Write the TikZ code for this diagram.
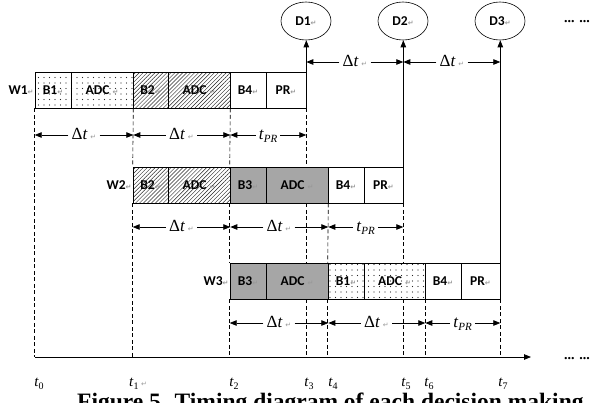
\documentclass[tikz,border=0pt]{standalone}
\usepackage{fontspec}
\setmainfont{Liberation Serif}
\newfontfamily\boxf{Carlito}
\newfontfamily\symf{DejaVu Sans}
\usetikzlibrary{arrows.meta,patterns.meta,shapes.geometric}
\newcommand\rt{{\symf\fontsize{7}{7}\selectfont\color{black!40}↵}}
\newcommand\dt{Δ\textit{t}\,\rt}
\newcommand\tpr{\textit{t}\raisebox{-3.5pt}{\fontsize{11}{11}\selectfont\textit{PR}}}
\newcommand\tsub[1]{\textit{t}\raisebox{-3pt}{\fontsize{10}{10}\selectfont #1}}
\newcommand\cellat[6]{\node[cell,#5,minimum width={(#3-#2)*1pt}] (#1) at ({(#2+#3)/2},#4) {#6};}
\tikzset{
  cell/.style={draw, line width=0.6pt, minimum height=36pt, inner sep=0pt,
    font=\boxf\bfseries\fontsize{13.5}{13.5}\selectfont},
  dotf/.style={pattern={Dots[distance=5.5pt,radius=0.55pt]}, pattern color=black!85},
  hatchf/.style={pattern={Lines[angle=45,distance=2.8pt,line width=0.45pt]}, pattern color=black!85},
  grayf/.style={fill=black!35},
  ell/.style={ellipse, draw, line width=0.6pt, minimum width=50pt, minimum height=38pt,
    inner sep=0pt, font=\boxf\bfseries\fontsize{13.5}{13.5}\selectfont},
  wlab/.style={anchor=east, inner sep=1pt, font=\boxf\bfseries\fontsize{13.5}{13.5}\selectfont},
  dsh/.style={dash pattern=on 4pt off 2.5pt, line width=0.6pt},
  tip/.style={-{Triangle[length=7pt,width=5.5pt]}, line width=0.8pt},
  lbl/.style={inner sep=3pt, text height=11pt, text depth=3pt, font=\fontsize{17}{17}\selectfont},
  tlab/.style={inner sep=0pt, font=\fontsize{15}{15}\selectfont},
  more/.style={inner sep=0pt, font=\bfseries\fontsize{14}{14}\selectfont}
}
\begin{document}
\begin{tikzpicture}[x=1pt,y=-1pt]
\useasboundingbox (0,0) rectangle (593,402);
\clip (0,0) rectangle (593,402);
% W1
\cellat{w1b1}{35}{71}{90}{dotf}{B1\rt}
\cellat{w1adc1}{71}{133}{90}{dotf}{ADC \rt}
\cellat{w1b2}{133}{168}{90}{hatchf}{B2\rt}
\cellat{w1adc2}{168}{230}{90}{hatchf}{ADC \rt}
\cellat{w1b4}{230}{266}{90}{}{B4\rt}
\cellat{w1pr}{266}{306}{90}{}{PR\rt}
\node[wlab] (w1) at (w1b1.west) {W1\rt};
% W2
\cellat{w2b2}{133}{168}{185}{hatchf}{B2\rt}
\cellat{w2adc1}{168}{230}{185}{hatchf}{ADC \rt}
\cellat{w2b3}{230}{266}{185}{grayf}{B3\rt}
\cellat{w2adc2}{266}{328}{185}{grayf}{ADC \rt}
\cellat{w2b4}{328}{364}{185}{}{B4\rt}
\cellat{w2pr}{364}{403}{185}{}{PR\rt}
\node[wlab] (w2) at (w2b2.west) {W2\rt};
% W3
\cellat{w3b3}{230}{266}{281}{grayf}{B3\rt}
\cellat{w3adc1}{266}{328}{281}{grayf}{ADC \rt}
\cellat{w3b1}{328}{364}{281}{dotf}{B1\rt}
\cellat{w3adc2}{364}{425}{281}{dotf}{ADC \rt}
\cellat{w3b4}{425}{461}{281}{}{B4\rt}
\cellat{w3pr}{461}{500}{281}{}{PR\rt}
\node[wlab] (w3) at (w3b3.west) {W3\rt};
% decisions
\node[ell] (d1) at (306,21) {D1\rt};
\node[ell] (d2) at (403,21) {D2\rt};
\node[ell] (d3) at (500,21) {D3\rt};
\node[more] (moretop) at (577,22) {... ...};
\draw[tip] (w1pr.north east) -- (w1pr.north east |- d1.south);
\draw[tip] (w2pr.north east) -- (w2pr.north east |- d2.south);
\draw[tip] (w3pr.north east) -- (w3pr.north east |- d3.south);
% top delta t
\node[lbl] (top1) at (355,62) {\dt};
\draw[tip] (top1.west) -- (w1pr.east |- top1.west);
\draw[tip] (top1.east) -- (w2pr.east |- top1.east);
\node[lbl] (top2) at (452,62) {\dt};
\draw[tip] (top2.west) -- (w2pr.east |- top2.west);
\draw[tip] (top2.east) -- (w3pr.east |- top2.east);
% axis
\coordinate (ax0) at (35,357);
\coordinate (ax1) at (531,357);
\draw[tip] (ax0) -- (ax1);
\node[more] (moreax) at (577,359) {... ...};
% row 1 spans
\node[lbl] (r1a) at (84,135) {\dt};
\draw[tip] (r1a.west) -- (w1b1.west |- r1a.west);
\draw[tip] (r1a.east) -- (w1adc1.east |- r1a.east);
\node[lbl] (r1b) at (181.5,135) {\dt};
\draw[tip] (r1b.west) -- (w1adc1.east |- r1b.west);
\draw[tip] (r1b.east) -- (w1adc2.east |- r1b.east);
\node[lbl] (r1c) at (268,135) {\tpr};
\draw[tip] (r1c.west) -- (w1adc2.east |- r1c.west);
\draw[tip] (r1c.east) -- (w1pr.east |- r1c.east);
% row 2 spans
\node[lbl] (r2a) at (181.5,227) {\dt};
\draw[tip] (r2a.west) -- (w2b2.west |- r2a.west);
\draw[tip] (r2a.east) -- (w2adc1.east |- r2a.east);
\node[lbl] (r2b) at (279,227) {\dt};
\draw[tip] (r2b.west) -- (w2adc1.east |- r2b.west);
\draw[tip] (r2b.east) -- (w2adc2.east |- r2b.east);
\node[lbl] (r2c) at (365.5,227) {\tpr};
\draw[tip] (r2c.west) -- (w2adc2.east |- r2c.west);
\draw[tip] (r2c.east) -- (w2pr.east |- r2c.east);
% row 3 spans
\node[lbl] (r3a) at (279,323) {\dt};
\draw[tip] (r3a.west) -- (w3b3.west |- r3a.west);
\draw[tip] (r3a.east) -- (w3adc1.east |- r3a.east);
\node[lbl] (r3b) at (376.5,323) {\dt};
\draw[tip] (r3b.west) -- (w3adc1.east |- r3b.west);
\draw[tip] (r3b.east) -- (w3adc2.east |- r3b.east);
\node[lbl] (r3c) at (462.5,323) {\tpr};
\draw[tip] (r3c.west) -- (w3adc2.east |- r3c.west);
\draw[tip] (r3c.east) -- (w3pr.east |- r3c.east);
% dashed guides
\draw[dsh] (w1b1.south west) -- (w1b1.south west |- ax0);
\draw[dsh] (w1adc1.south east) -- (w2b2.north west);
\draw[dsh] (w2b2.south west) -- (w2b2.south west |- ax0);
\draw[dsh] (w1adc2.south east) -- (w2b3.north west);
\draw[dsh] (w2b3.south west) -- (w3b3.north west);
\draw[dsh] (w3b3.south west) -- (w3b3.south west |- ax0);
\draw[dsh] (w1pr.south east) -- (w1pr.south east |- w2adc2.north);
\draw[dsh] (w1pr.south east |- w2adc2.south) -- (w1pr.south east |- w3adc1.north);
\draw[dsh] (w1pr.south east |- w3adc1.south) -- (w1pr.south east |- ax0);
\draw[dsh] (w2adc2.south east) -- (w3b1.north west);
\draw[dsh] (w3b1.south west) -- (w3b1.south west |- ax0);
\draw[dsh] (w2pr.south east) -- (w2pr.south east |- w3adc2.north);
\draw[dsh] (w2pr.south east |- w3adc2.south) -- (w2pr.south east |- ax0);
\draw[dsh] (w3adc2.south east) -- (w3adc2.south east |- ax0);
\draw[dsh] (w3pr.south east) -- (w3pr.south east |- ax0);
% time labels
\node[tlab] (t0) at (39,384) {\tsub{0}};
\node[tlab,anchor=west] (t1) at (129,384) {\tsub{1}\,\rt};
\node[tlab] (t2) at (234,384) {\tsub{2}};
\node[tlab] (t3) at (309,384) {\tsub{3}};
\node[tlab] (t4) at (333,384) {\tsub{4}};
\node[tlab] (t5) at (406,384) {\tsub{5}};
\node[tlab] (t6) at (429,384) {\tsub{6}};
\node[tlab] (t7) at (503,384) {\tsub{7}};
% caption (cut off at the bottom edge, as in the reference)
\node[anchor=base west, inner sep=0pt, font=\bfseries\fontsize{23.5}{23.5}\selectfont] (cap) at (77,409) {Figure 5. Timing diagram of each decision making};
\end{tikzpicture}
\end{document}
